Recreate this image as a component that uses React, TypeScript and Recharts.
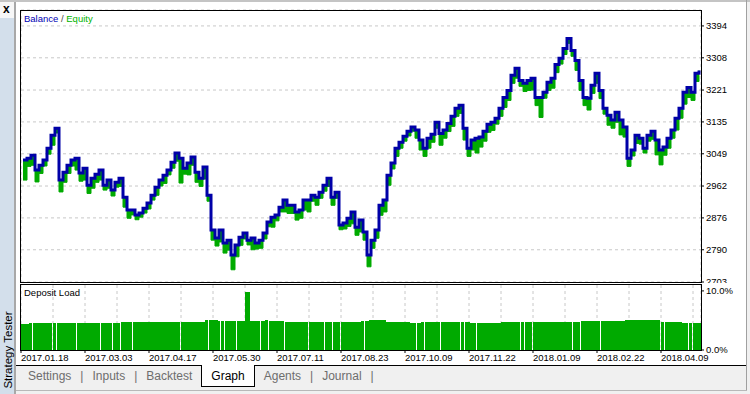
import React from 'react'
import { ComposedChart, Line, Area, Bar, XAxis, YAxis, CartesianGrid } from 'recharts'

const DATES = [
  '2017.01.18', '2017.03.03', '2017.04.17', '2017.05.30', '2017.07.11', '2017.08.23',
  '2017.10.09', '2017.11.22', '2018.01.09', '2018.02.22', '2018.04.09',
]

const BALANCE = [
  3032, 3037, 3045, 3005, 3018, 3032, 3064, 3099, 3118, 2978,
  2999, 3018, 3032, 3037, 2997, 3010, 2964, 2983, 2994, 3005,
  2964, 2978, 2951, 2972, 2983, 2932, 2897, 2897, 2884, 2889,
  2902, 2916, 2937, 2959, 2978, 2991, 3005, 3026, 3051, 3037,
  3010, 3024, 3040, 2999, 2983, 3013, 2937, 2843, 2822, 2843,
  2808, 2816, 2776, 2803, 2824, 2835, 2816, 2822, 2808, 2816,
  2835, 2865, 2878, 2884, 2905, 2924, 2910, 2910, 2892, 2897,
  2924, 2924, 2937, 2932, 2945, 2964, 2983, 2932, 2945, 2857,
  2862, 2875, 2892, 2851, 2870, 2838, 2776, 2816, 2843, 2910,
  2924, 2991, 3024, 3064, 3080, 3096, 3110, 3121, 3113, 3086,
  3064, 3091, 3102, 3134, 3104, 3113, 3131, 3150, 3172, 3180,
  3118, 3064, 3086, 3091, 3094, 3110, 3129, 3134, 3145, 3172,
  3201, 3220, 3261, 3280, 3247, 3239, 3247, 3253, 3201, 3201,
  3215, 3242, 3253, 3290, 3307, 3333, 3360, 3328, 3301, 3247,
  3201, 3199, 3234, 3266, 3220, 3172, 3153, 3140, 3161, 3140,
  3121, 3037, 3059, 3099, 3091, 3064, 3099, 3110, 3086, 3059,
  3067, 3091, 3113, 3145, 3172, 3215, 3228, 3215, 3266, 3274,
]

const EQUITY = [
  2978, 3015, 3018, 2973, 2996, 3016, 3048, 3072, 3105, 2946,
  2972, 2996, 3016, 3005, 2975, 2978, 2942, 2956, 2972, 2978,
  2951, 2956, 2935, 2959, 2961, 2905, 2875, 2884, 2871, 2878,
  2889, 2900, 2924, 2937, 2962, 2969, 2992, 3010, 3029, 2970,
  2994, 2992, 3018, 2972, 2961, 2981, 2921, 2816, 2800, 2811,
  2781, 2789, 2736, 2771, 2802, 2819, 2803, 2790, 2792, 2794,
  2819, 2852, 2851, 2868, 2892, 2892, 2888, 2888, 2870, 2875,
  2897, 2892, 2921, 2910, 2929, 2948, 2961, 2910, 2929, 2844,
  2846, 2853, 2860, 2829, 2838, 2816, 2744, 2794, 2821, 2883,
  2892, 2964, 3008, 3042, 3064, 3083, 3097, 3110, 3091, 3059,
  3042, 3064, 3080, 3118, 3072, 3091, 3109, 3123, 3150, 3158,
  3086, 3042, 3059, 3051, 3067, 3083, 3107, 3112, 3129, 3150,
  3174, 3193, 3239, 3253, 3231, 3217, 3220, 3221, 3179, 3147,
  3199, 3220, 3226, 3268, 3291, 3317, 3347, 3312, 3274, 3220,
  3179, 3167, 3212, 3239, 3198, 3156, 3126, 3118, 3134, 3100,
  3094, 3015, 3043, 3077, 3075, 3051, 3083, 3088, 3046, 3019,
  3045, 3064, 3091, 3113, 3145, 3183, 3201, 3193, 3244, 3261,
]

// deposit load, percent
const LOAD = [
  4.4, 4.4, 4.6, 4.6, 4.6, 4.6, 4.6, 4.5, 4.5, 4.6,
  4.6, 4.6, 4.6, 4.6, 4.6, 4.6, 4.6, 4.6, 4.6, 4.5,
  4.5, 4.5, 4.5, 4.5, 4.5, 4.8, 4.8, 4.8, 4.8, 4.8,
  4.8, 4.8, 4.8, 4.8, 4.8, 4.8, 4.8, 4.8, 4.8, 4.8,
  4.8, 4.8, 4.8, 4.8, 4.8, 4.8, 5.0, 5.1, 5.1, 4.9,
  4.9, 4.9, 4.9, 4.9, 4.9, 4.9, 9.8, 4.9, 4.9, 4.9,
  4.9, 5.1, 4.9, 4.9, 4.9, 4.9, 4.8, 4.8, 4.8, 4.8,
  4.8, 4.8, 4.8, 4.8, 4.8, 4.8, 4.8, 4.8, 4.7, 4.7,
  4.7, 4.7, 4.7, 4.7, 4.7, 4.9, 4.9, 5.0, 5.0, 5.0,
  5.0, 4.8, 4.8, 4.8, 4.8, 4.8, 4.8, 4.6, 4.6, 4.6,
  4.7, 4.7, 4.7, 4.7, 4.7, 4.7, 4.7, 4.7, 4.7, 4.7,
  4.7, 4.7, 4.6, 4.6, 4.6, 4.6, 4.6, 4.6, 4.6, 4.6,
  4.7, 4.7, 4.7, 4.7, 4.7, 4.7, 4.7, 4.7, 4.75, 4.75,
  4.75, 4.75, 4.75, 4.75, 4.75, 4.75, 4.75, 4.75, 4.75, 4.75,
  4.85, 4.85, 4.85, 4.85, 4.85, 4.9, 4.9, 4.9, 4.9, 4.9,
  4.9, 5.0, 5.0, 5.0, 5.0, 5.0, 5.0, 5.0, 5.0, 5.0,
  4.8, 4.8, 4.8, 4.8, 4.8, 4.6, 4.6, 4.6, 4.6, 4.6,
]

// points where the load histogram shows a thin white break
const LOAD_GAPS = [
  2, 7, 8, 13, 19, 22, 24, 27, 39, 46, 49, 50, 53, 59, 61, 65, 71, 75, 77, 79, 85,
  98, 100, 104, 109, 110, 113, 124, 125, 127, 137, 139, 144, 159, 160, 166, 167,
]

const PRICE_TICKS = [2703, 2790, 2876, 2962, 3049, 3135, 3221, 3308, 3394]
const LOAD_TICKS = [0, 10]
const TABS = ['Settings', 'Inputs', 'Backtest', 'Graph', 'Agents', 'Journal']
const ACTIVE_TAB = 'Graph'

const BLUE = '#0000a8'
const GREEN = '#00aa00'
const FONT = '"Liberation Sans", Arial, sans-serif'
const GRID_TICKS = Array.from({ length: 22 }, (_, k) => k * 8 - 0.5)

function DateTick(props: any) {
  const { x, y, index } = props
  if (index % 2 !== 0) return null
  return (
    <g>
      <line x1={x} x2={x} y1={y} y2={y + 3} stroke="#000" />
      <text x={x} y={y + 11} fontSize={9.5} fontFamily={FONT} fill="#000">
        {DATES[index / 2]}
      </text>
    </g>
  )
}

function LoadBar(props: any) {
  const { x, y, width, height, payload } = props
  if (!height) return null
  const x0 = Math.round(x)
  const w = payload.gap ? Math.round(width) - 1 : Math.round(width) + 1
  return <rect x={x0} y={y} width={w} height={height} fill={GREEN} shapeRendering="crispEdges" />
}

function Tabs() {
  return (
    <div style={{ position: 'absolute', left: 19, top: 365, display: 'flex', fontSize: 12, fontFamily: FONT }}>
      {TABS.map((t, i) => {
        const active = t === ACTIVE_TAB
        const nextActive = TABS[i + 1] === ACTIVE_TAB
        return (
          <React.Fragment key={t}>
            <div
              style={{
                padding: '2px 9px 0',
                lineHeight: '19px',
                color: active ? '#000' : '#6d6d6d',
                background: active ? '#fff' : 'transparent',
                border: active ? '1px solid #000' : 'none',
                borderTop: 'none',
              }}
            >
              {t}
            </div>
            {!active && !nextActive && (
              <div style={{ paddingTop: 2, lineHeight: '19px', color: '#6d6d6d' }}>|</div>
            )}
          </React.Fragment>
        )
      })}
    </div>
  )
}

export default function App() {
  const rows = BALANCE.map((b, i) => ({ i, balance: b, dd: [EQUITY[i], b] }))
  const loadRows = LOAD.map((v, i) => ({ i, load: v, gap: LOAD_GAPS.includes(i) }))

  return (
    <div
      style={{
        position: 'absolute', left: 0, top: 0, width: 750, height: 394,
        background: '#f0f0f0', overflow: 'hidden', fontFamily: FONT,
      }}
    >
      <div style={{ position: 'absolute', left: 0, top: 0, width: 750, height: 2, background: '#c4c4c4' }} />
      <div style={{ position: 'absolute', left: 0, top: 2, width: 15, height: 16, background: '#f7f7f7' }} />
      <div style={{ position: 'absolute', left: 3, top: 2, fontSize: 12, fontWeight: 'bold', lineHeight: '15px' }}>x</div>
      <div style={{ position: 'absolute', left: 0, top: 18, width: 14, height: 376, background: '#d3dfeb' }} />
      <div style={{ position: 'absolute', left: 14, top: 2, width: 2, height: 392, background: '#a8a8a8' }} />
      <div
        style={{
          position: 'absolute', left: -32, top: 343, width: 80, height: 14, lineHeight: '14px',
          fontSize: 11.5, textAlign: 'center', color: '#000', transform: 'rotate(-90deg)',
        }}
      >
        Strategy Tester
      </div>

      {/* white working area */}
      <div style={{ position: 'absolute', left: 16, top: 2, width: 730, height: 363, background: '#fff' }} />
      <div style={{ position: 'absolute', left: 16, top: 365, width: 730, height: 1, background: '#000' }} />
      <div style={{ position: 'absolute', left: 746, top: 0, width: 1, height: 391, background: '#a0a0a0' }} />
      <div style={{ position: 'absolute', left: 16, top: 390, width: 731, height: 1, background: '#b8b8b8' }} />

      <div style={{ position: 'absolute', left: 16, top: 0 }}>
        <ComposedChart width={730} height={290} data={rows} margin={{ top: 10, right: 0, bottom: 8, left: 5 }}>
          <CartesianGrid stroke="#c8c8c8" strokeDasharray="3 3" />
          <XAxis
            dataKey="i" type="number" domain={[-0.5, 169.5]} ticks={GRID_TICKS} interval={0}
            tick={false} tickLine={false} axisLine={false} height={0}
          />
          <YAxis
            orientation="right" width={45} domain={[2703, 3437]} ticks={PRICE_TICKS} interval={0}
            axisLine={false} tickSize={3} tickLine={{ stroke: '#000' }}
            tick={{ fontSize: 9.5, fill: '#000', fontFamily: FONT }}
          />
          <Area
            dataKey="dd" type="stepAfter" fill={GREEN} fillOpacity={1} stroke={GREEN} strokeWidth={1}
            isAnimationActive={false}
          />
          <Line
            dataKey="balance" type="stepAfter" stroke={BLUE} strokeWidth={3}
            dot={false} isAnimationActive={false}
          />
        </ComposedChart>
      </div>
      <div
        style={{
          position: 'absolute', left: 20, top: 10, width: 682, height: 273,
          boxSizing: 'border-box', border: '1px solid #000',
        }}
      />
      <div style={{ position: 'absolute', left: 24, top: 13, fontSize: 9.5, lineHeight: '12px', whiteSpace: 'nowrap' }}>
        <span style={{ color: '#0000b4' }}>Balance</span>
        <span style={{ color: '#444' }}> / </span>
        <span style={{ color: '#00b400' }}>Equity</span>
      </div>

      <div style={{ position: 'absolute', left: 16, top: 283, background: '#fff' }}>
        <ComposedChart width={730} height={82} data={loadRows} margin={{ top: 2, right: 0, bottom: 0, left: 5 }}>
          <CartesianGrid stroke="#c8c8c8" strokeDasharray="3 3" horizontal={false} />
          <XAxis
            dataKey="i" type="number" domain={[-0.5, 169.5]} ticks={GRID_TICKS} interval={0}
            height={15} axisLine={false} tickLine={false} tickSize={0} tickMargin={0}
            tick={<DateTick />}
          />
          <YAxis
            orientation="right" width={45} domain={[0, 11]} ticks={LOAD_TICKS} interval={0}
            axisLine={false} tickSize={3} tickLine={{ stroke: '#000' }}
            tickFormatter={(v: number) => `${v.toFixed(1)}%`}
            tick={{ fontSize: 9.5, fill: '#000', fontFamily: FONT }}
          />
          <Bar dataKey="load" barSize={4} shape={<LoadBar />} isAnimationActive={false} />
        </ComposedChart>
      </div>
      <div
        style={{
          position: 'absolute', left: 20, top: 284, width: 682, height: 67,
          boxSizing: 'border-box', border: '1px solid #000',
        }}
      />
      <div style={{ position: 'absolute', left: 24, top: 287, fontSize: 9.5, lineHeight: '12px', color: '#000' }}>
        Deposit Load
      </div>

      <Tabs />
    </div>
  )
}
